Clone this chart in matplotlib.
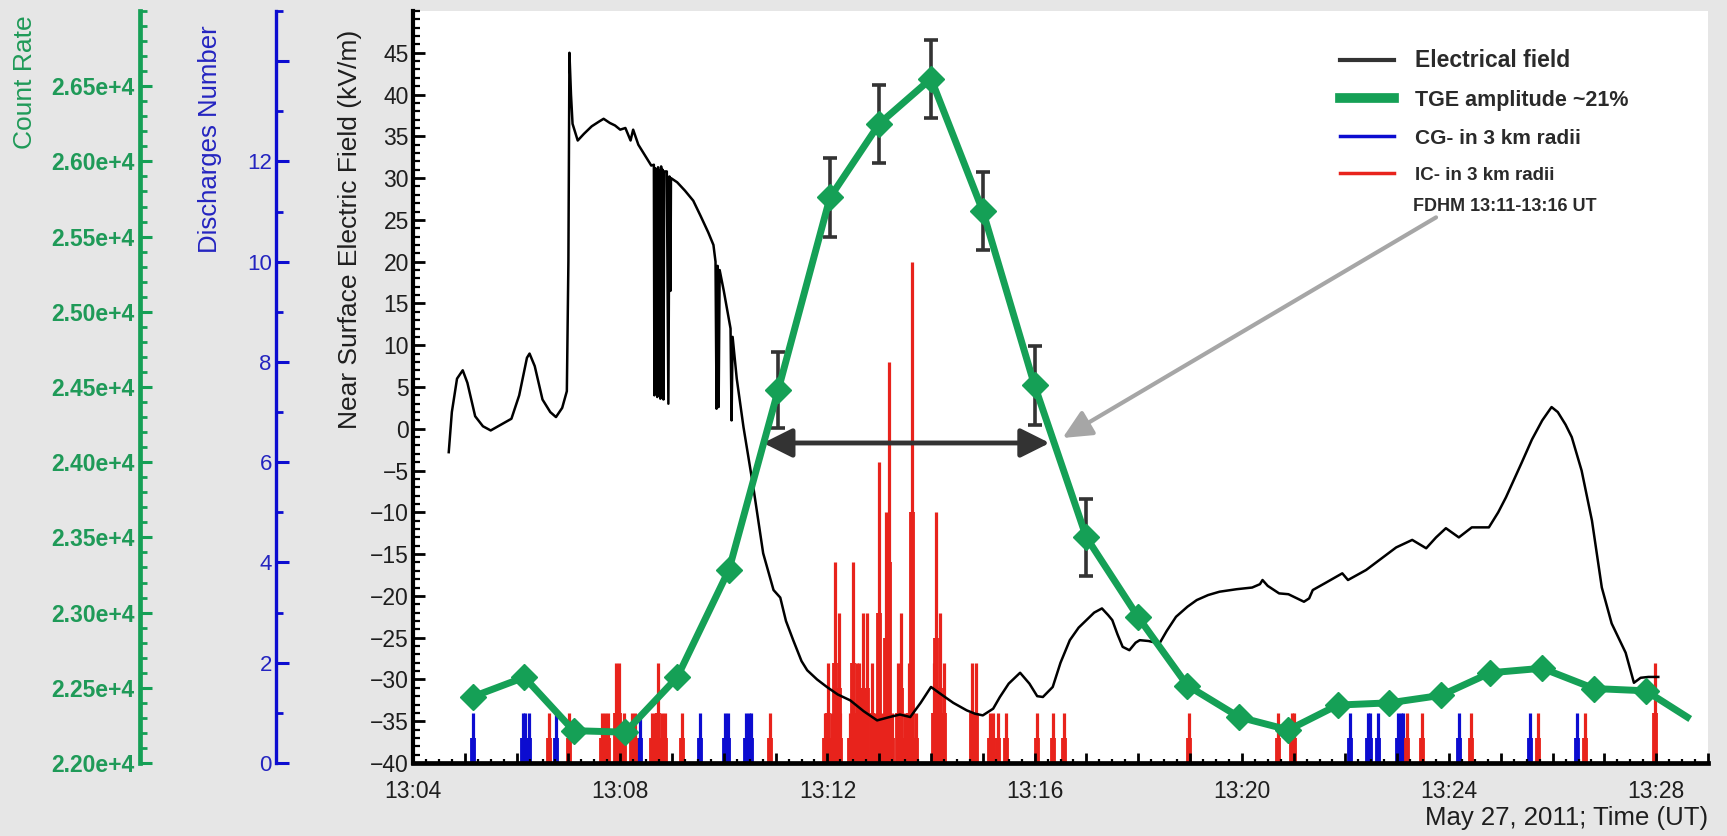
import matplotlib
matplotlib.use('Agg')
import matplotlib.pyplot as plt
from matplotlib.lines import Line2D
from matplotlib.ticker import MultipleLocator, FixedLocator, FixedFormatter
import numpy as np

plt.rcParams['font.family'] = ['Liberation Sans', 'DejaVu Sans']

# ---------------- data (time in minutes after 13:04 UT) ----------------
e_time = [0.69, 0.75, 0.85, 0.96, 1.05, 1.20, 1.35, 1.50, 1.70, 1.90, 2.05, 2.20, 2.25, 2.35,
          2.50, 2.65, 2.76, 2.88, 2.97, 3.00, 3.02, 3.05, 3.08, 3.18, 3.30, 3.45, 3.60, 3.68,
          3.80, 3.90, 4.00, 4.10, 4.20, 4.25, 4.35, 4.50, 4.60, 4.65, 4.66, 4.67, 4.685, 4.70,
          4.715, 4.73, 4.745, 4.76, 4.775, 4.79, 4.805, 4.82, 4.835, 4.85, 4.90, 4.93, 4.95,
          4.97, 4.98, 5.10, 5.25, 5.41, 5.55, 5.70, 5.80, 5.84, 5.86, 5.88, 5.90, 5.92, 6.00,
          6.10, 6.13, 6.15, 6.17, 6.25, 6.38, 6.57, 6.76, 6.96, 7.09, 7.20, 7.34, 7.50, 7.61,
          7.80, 7.99, 8.20, 8.44, 8.70, 8.96, 9.20, 9.40, 9.60, 9.80, 10.00, 10.20, 10.43,
          10.69, 10.85, 11.00, 11.20, 11.33, 11.50, 11.72, 11.90, 12.05, 12.16, 12.35, 12.50,
          12.68, 12.85, 13.00, 13.15, 13.30, 13.42, 13.50, 13.60, 13.70, 13.83, 13.95, 14.03,
          14.20, 14.41, 14.55, 14.73, 14.95, 15.13, 15.35, 15.57, 15.90, 16.20, 16.35, 16.40,
          16.50, 16.72, 16.90, 17.20, 17.30, 17.37, 17.60, 17.94, 18.05, 18.40, 18.70, 18.98,
          19.29, 19.56, 19.75, 19.94, 20.19, 20.44, 20.77, 20.95, 21.10, 21.40, 21.60, 21.80,
          21.98, 22.10, 22.25, 22.37, 22.56, 22.76, 22.95, 23.14, 23.41, 23.57, 23.70, 23.85,
          24.04]
e_field = [-2.8, 2.0, 6.0, 7.0, 5.5, 1.5, 0.3, -0.2, 0.5, 1.2, 4.0, 8.5, 9.0, 7.5,
           3.5, 2.0, 1.4, 2.5, 4.5, 20.0, 45.0, 40.0, 36.5, 34.5, 35.3, 36.2, 36.8, 37.1,
           36.6, 36.3, 35.8, 36.0, 34.5, 35.8, 34.0, 32.5, 31.5, 31.6, 4.0, 31.2, 4.2, 31.0,
           3.8, 31.3, 4.0, 30.9, 3.6, 31.4, 3.9, 31.0, 3.5, 30.8, 30.8, 3.0, 30.2,
           16.5, 30.0, 29.5, 28.5, 27.3, 25.5, 23.5, 22.0, 20.0, 2.4, 19.5, 2.6, 19.0, 16.5,
           13.0, 12.0, 1.0, 11.0, 6.0, 0.2, -7.0, -14.9, -19.3, -20.2, -23.0, -25.3, -27.8, -28.9,
           -30.0, -30.9, -31.8, -32.5, -33.8, -34.9, -34.5, -34.2, -34.5, -32.8, -30.9, -31.8, -32.8,
           -33.7, -34.1, -34.3, -33.5, -32.1, -30.5, -29.2, -30.5, -32.0, -32.1, -30.9, -28.0,
           -25.3, -23.8, -22.9, -22.0, -21.5, -22.3, -22.9, -24.6, -26.1, -26.5, -25.6, -25.3,
           -25.4, -25.7, -24.2, -22.5, -21.3, -20.5, -19.9, -19.5, -19.2, -19.0, -18.6, -18.1,
           -18.8, -19.7, -19.8, -20.7, -20.3, -19.3, -18.5, -17.3, -18.1, -16.9, -15.5, -14.2,
           -13.3, -14.3, -13.0, -11.9, -13.0, -11.8, -11.8, -10.0, -8.2, -4.1, -1.3, 1.0,
           2.6, 2.0, 0.5, -1.0, -5.0, -11.0, -19.0, -23.3, -26.8, -30.4, -29.8, -29.7,
           -29.7]

tge_time = [1.15, 2.15, 3.10, 4.10, 5.10, 6.10, 7.05, 8.05, 9.00, 10.00, 11.00, 12.00, 13.00,
            14.00, 14.95, 15.95, 16.90, 17.85, 18.85, 19.85, 20.80, 21.80, 22.80, 23.80, 24.60]
tge_count = [22440, 22570, 22215, 22205, 22570, 23285, 24480, 25760, 26250, 26550, 25670,
             24510, 23500, 22970, 22515, 22305, 22220, 22385, 22400, 22450, 22600, 22630,
             22495, 22480, 22305]
err_time = [7.05, 8.05, 9.00, 10.00, 11.00, 12.00, 13.00]
err_count = [24480, 25760, 26250, 26550, 25670, 24510, 23500]
err_size = [255, 265, 260, 260, 260, 265, 255]

cg_time = [1.15, 2.13, 2.16, 2.23, 2.77, 4.39, 5.55, 6.03, 6.08, 6.43, 6.48, 6.53,
           18.09, 18.44, 18.48, 18.62, 19.02, 19.07, 19.12, 20.19, 21.56, 22.47]
cg_count = [1] * 22

ic_time = [2.63, 3.01, 3.65, 3.70, 3.76, 3.92, 3.98, 4.07, 4.22, 4.28, 4.62, 4.67, 4.73,
           4.80, 4.86, 5.20, 6.89, 7.96, 8.01, 8.09, 8.15, 8.22, 8.25, 8.44, 8.50, 8.57,
           8.61, 8.68, 8.76, 8.86, 8.92, 9.00, 9.05, 9.13, 9.18, 9.24, 9.36, 9.42, 9.49,
           9.58, 9.64, 9.72, 10.05, 10.10, 10.18, 10.25, 10.80, 10.86, 11.14, 11.20, 11.30,
           11.44, 12.04, 12.36, 12.56, 14.99, 16.69, 16.96, 17.01, 19.18, 19.47, 20.42,
           21.71, 22.63, 23.98]
ic_count = [1, 1, 1, 1, 1, 2, 2, 1, 1, 1, 1, 1, 2,
            1, 1, 1, 1, 1, 2, 1, 4, 3, 1, 1, 4, 2,
            2, 3, 3, 2, 1, 6, 1, 5, 8, 1, 2, 3, 1,
            2, 10, 1, 2, 5, 3, 2, 2, 2, 1, 1, 1,
            1, 1, 1, 1, 1, 1, 1, 1, 1, 1, 1,
            1, 1, 2]

x_tick_pos = [0, 4, 8, 12, 16, 20, 24]
x_tick_labels = ['13:04', '13:08', '13:12', '13:16', '13:20', '13:24', '13:28']
e_ticks = list(range(-40, 50, 5))
cr_ticks = [22000, 22500, 23000, 23500, 24000, 24500, 25000, 25500, 26000, 26500]
cr_labels = ['2.20e+4', '2.25e+4', '2.30e+4', '2.35e+4', '2.40e+4', '2.45e+4',
             '2.50e+4', '2.55e+4', '2.60e+4', '2.65e+4']
dn_ticks = [0, 2, 4, 6, 8, 10, 12, 14]
dn_labels = ['0', '2', '4', '6', '8', '10', '12', '']
fdhm_start, fdhm_end, fdhm_level = 6.76, 12.29, -1.7

legend_labels = ['Electrical field', 'TGE amplitude ~21%', 'CG- in 3 km radii',
                 'IC- in 3 km radii']

# ---------------- styling ----------------
GREEN = '#15a056'
GREEN_TXT = '#1f9a58'
BLUE = '#0c0cd0'
BLUE_TXT = '#2424c0'
RED = '#e8231c'
BG = '#e6e6e6'

fig = plt.figure(figsize=(17.27, 8.36), dpi=100, facecolor=BG)
L, R = 413 / 1727, 1708 / 1727
B, T = 1 - 763 / 836, 1 - 11 / 836
rect = [L, B, R - L, T - B]

ax_dn = fig.add_axes(rect)   # discharges (bottom layer, white background)
ax = fig.add_axes(rect)      # electric field
ax_cr = fig.add_axes(rect)   # count rate (top)

ax_dn.set_zorder(1)
ax.set_zorder(2)
ax_cr.set_zorder(3)
ax_dn.set_facecolor('white')
ax.patch.set_visible(False)
ax_cr.patch.set_visible(False)

XMIN, XMAX = 0, 25
for a in (ax_dn, ax, ax_cr):
    a.set_xlim(XMIN, XMAX)
    for s in ('top', 'right'):
        a.spines[s].set_visible(False)

# --- discharges ---
ax_dn.set_ylim(0, 15)
ax_dn.vlines(cg_time, 0, cg_count, color=BLUE, lw=2.3)
ax_dn.vlines(cg_time, 0, np.array(cg_count) * 0.5, color=BLUE, lw=4.2)
ax_dn.vlines(ic_time, 0, ic_count, color=RED, lw=2.3)
ax_dn.vlines(ic_time, 0, np.array(ic_count) * 0.5, color=RED, lw=4.2)
ax_dn.xaxis.set_visible(False)
ax_dn.spines['bottom'].set_visible(False)
ax_dn.spines['left'].set_position(('axes', -0.1058))
ax_dn.spines['left'].set_color(BLUE)
ax_dn.spines['left'].set_linewidth(2.4)
ax_dn.yaxis.set_major_locator(FixedLocator(dn_ticks))
ax_dn.yaxis.set_major_formatter(FixedFormatter(dn_labels))
ax_dn.yaxis.set_minor_locator(MultipleLocator(1))
ax_dn.tick_params(axis='y', which='major', direction='in', length=9, width=2.2,
                  color=BLUE, labelcolor=BLUE_TXT, labelsize=16, pad=3)
ax_dn.tick_params(axis='y', which='minor', direction='in', length=5, width=2.0, color=BLUE)

# --- electric field ---
ax.set_ylim(-40, 50)
ax.plot(e_time, e_field, color='black', lw=1.8, zorder=3)
ax.spines['left'].set_linewidth(3)
ax.spines['bottom'].set_linewidth(3.4)
ax.yaxis.set_major_locator(FixedLocator(e_ticks))
ax.yaxis.set_minor_locator(MultipleLocator(1))
ax.tick_params(axis='y', which='major', direction='in', length=8.5, width=2.0,
               labelsize=16.5, pad=3, labelcolor='#1e1e1e')
ax.tick_params(axis='y', which='minor', direction='in', length=5, width=1.6)
ax.xaxis.set_minor_locator(MultipleLocator(0.25))
ax.set_xticks(np.arange(XMIN, XMAX + 0.01, 1), minor=False)
ax.set_xticklabels([x_tick_labels[x_tick_pos.index(v)] if v in x_tick_pos else ''
                    for v in range(XMIN, XMAX + 1)])
ax.tick_params(axis='x', which='major', direction='in', length=7, width=2.0,
               labelsize=16.5, pad=12, labelcolor='#1e1e1e')
ax.tick_params(axis='x', which='minor', direction='in', length=3, width=1.6)

ax.text(-0.0486, 0.71, 'Near Surface Electric Field (kV/m)', transform=ax.transAxes,
        rotation=90, ha='center', va='center', fontsize=19, color='#1e1e1e')
ax.text(1.0, -0.0725, 'May 27, 2011; Time (UT)', transform=ax.transAxes,
        ha='right', va='center', fontsize=18.5, color='#1e1e1e')
ax.text(-0.1568, 0.83, 'Discharges Number', transform=ax.transAxes,
        rotation=90, ha='center', va='center', fontsize=18.5, color=BLUE_TXT)
ax.text(-0.2996, 0.9056, 'Count Rate', transform=ax.transAxes,
        rotation=90, ha='center', va='center', fontsize=19, color=GREEN_TXT)

# FDHM arrows
ax.annotate('', xy=(fdhm_end, fdhm_level), xytext=(fdhm_start, fdhm_level),
            arrowprops=dict(arrowstyle='<|-|>,head_length=0.8,head_width=0.4',
                            mutation_scale=22, lw=3.5, color='#333333',
                            shrinkA=0, shrinkB=0), zorder=4)
ax.annotate('', xy=(12.54, -1.1), xytext=(19.75, 25.3),
            arrowprops=dict(arrowstyle='-|>,head_length=0.8,head_width=0.38',
                            mutation_scale=22, lw=3, color='#a6a6a6',
                            shrinkA=0, shrinkB=0), zorder=4)
ax.text(0.7722, 0.7394, 'FDHM 13:11-13:16 UT', transform=ax.transAxes,
        ha='left', va='center', fontsize=13, fontweight='bold', color='#2a2a2a')

handles = [Line2D([], [], color='#333333', lw=3),
           Line2D([], [], color=GREEN, lw=7),
           Line2D([], [], color=BLUE, lw=2.5),
           Line2D([], [], color=RED, lw=2.5)]
leg = ax.legend(handles, legend_labels, loc='upper left', bbox_to_anchor=(0.716, 0.949),
                frameon=False, borderpad=0, borderaxespad=0, handlelength=2.4,
                handletextpad=0.95, labelspacing=0.78,
                prop={'weight': 'bold', 'size': 16})
for txt, sz in zip(leg.get_texts(), [16.5, 15.5, 15, 13.5]):
    txt.set_fontsize(sz)
    txt.set_color('#2a2a2a')

# --- count rate ---
ax_cr.set_ylim(22000, 27000)
ax_cr.errorbar(err_time, err_count, yerr=err_size, fmt='none', ecolor='#333333',
               elinewidth=2.6, capsize=5, capthick=2.6, zorder=2)
ax_cr.plot(tge_time, tge_count, color=GREEN, lw=5, marker='D', ms=13,
           markevery=list(range(len(tge_time) - 1)), zorder=3)
ax_cr.xaxis.set_visible(False)
ax_cr.spines['bottom'].set_visible(False)
ax_cr.spines['left'].set_position(('axes', -0.2108))
ax_cr.spines['left'].set_color(GREEN)
ax_cr.spines['left'].set_linewidth(3.4)
ax_cr.yaxis.set_major_locator(FixedLocator(cr_ticks))
ax_cr.yaxis.set_major_formatter(FixedFormatter(cr_labels))
ax_cr.yaxis.set_minor_locator(MultipleLocator(100))
ax_cr.tick_params(axis='y', which='major', direction='in', length=8.5, width=2.2,
                  color=GREEN, labelcolor=GREEN_TXT, labelsize=16.5, pad=4)
ax_cr.tick_params(axis='y', which='minor', direction='in', length=5, width=2.0, color=GREEN)
for lbl in ax_cr.get_yticklabels():
    lbl.set_fontweight('bold')

fig.savefig('out.png', dpi=100, facecolor=BG)
